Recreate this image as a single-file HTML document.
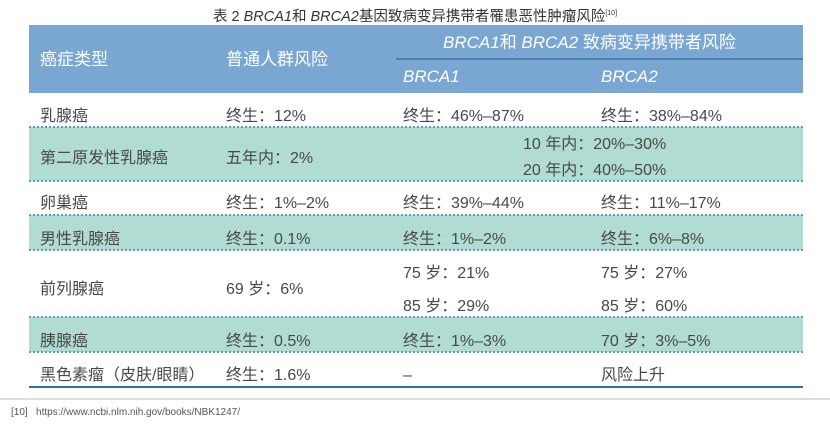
<!DOCTYPE html>
<html><head><meta charset="utf-8"><style>
*{margin:0;padding:0;box-sizing:border-box}
body{width:830px;height:424px;background:#fff;position:relative;overflow:hidden;font-family:"Liberation Sans","Noto Sans CJK SC",sans-serif;color:#484848}
.a{position:absolute;white-space:nowrap}
.t{font-size:16px;line-height:18px;transform:translateY(-9px)}
.h{color:#fff;font-size:17px;line-height:20px;transform:translateY(-10px)}
.band{position:absolute;left:29px;width:774px}
.dot{position:absolute;left:29px;width:774px;border-top:2px dotted #5a9ccc;height:0}
i{font-style:italic}
</style></head><body>
<div class="a" style="left:0;width:830px;text-align:center;top:4px;font-size:14.5px;line-height:20px;color:#333">表 2 <i>BRCA1</i>和 <i>BRCA2</i>基因致病变异携带者罹患恶性肿瘤风险<sup style="font-size:7px">[10]</sup></div>
<div class="band" style="top:25px;height:68px;background:#7aa6d2"></div>
<div class="a" style="left:396px;width:407px;top:58px;height:2px;background:#4d7fb5"></div>
<div class="a h" style="left:40px;top:60px">癌症类型</div>
<div class="a h" style="left:226px;top:60px">普通人群风险</div>
<div class="a h" style="left:443px;top:43px"><i>BRCA1</i>和 <i>BRCA2</i> 致病变异携带者风险</div>
<div class="a h" style="left:403px;top:77px"><i>BRCA1</i></div>
<div class="a h" style="left:601px;top:77px"><i>BRCA2</i></div>

<div class="band" style="top:127px;height:54px;background:#b1dcd4"></div>
<div class="band" style="top:215px;height:35px;background:#b1dcd4"></div>
<div class="band" style="top:317px;height:35px;background:#b1dcd4"></div>
<div class="dot" style="top:126px"></div>
<div class="dot" style="top:180px"></div>
<div class="dot" style="top:214px"></div>
<div class="dot" style="top:249px"></div>
<div class="dot" style="top:316px"></div>
<div class="dot" style="top:351px"></div>
<div class="a" style="left:29px;width:774px;top:386px;height:2px;background:#2f6cb0"></div>
<div class="a" style="left:0;width:830px;top:398px;height:2px;background:#ddd"></div>

<div class="a t" style="left:40px;top:117px">乳腺癌</div>
<div class="a t" style="left:226px;top:117px">终生：12%</div>
<div class="a t" style="left:403px;top:117px">终生：46%–87%</div>
<div class="a t" style="left:601px;top:117px">终生：38%–84%</div>

<div class="a t" style="left:40px;top:159px">第二原发性乳腺癌</div>
<div class="a t" style="left:226px;top:159px">五年内：2%</div>
<div class="a t" style="left:523px;top:145px">10 年内：20%–30%</div>
<div class="a t" style="left:523px;top:171px">20 年内：40%–50%</div>

<div class="a t" style="left:40px;top:204px">卵巢癌</div>
<div class="a t" style="left:226px;top:204px">终生：1%–2%</div>
<div class="a t" style="left:403px;top:204px">终生：39%–44%</div>
<div class="a t" style="left:601px;top:204px">终生：11%–17%</div>

<div class="a t" style="left:40px;top:240px">男性乳腺癌</div>
<div class="a t" style="left:226px;top:240px">终生：0.1%</div>
<div class="a t" style="left:403px;top:240px">终生：1%–2%</div>
<div class="a t" style="left:601px;top:240px">终生：6%–8%</div>

<div class="a t" style="left:40px;top:290px">前列腺癌</div>
<div class="a t" style="left:226px;top:290px">69 岁：6%</div>
<div class="a t" style="left:403px;top:274px">75 岁：21%</div>
<div class="a t" style="left:601px;top:274px">75 岁：27%</div>
<div class="a t" style="left:403px;top:307px">85 岁：29%</div>
<div class="a t" style="left:601px;top:307px">85 岁：60%</div>

<div class="a t" style="left:40px;top:342px">胰腺癌</div>
<div class="a t" style="left:226px;top:342px">终生：0.5%</div>
<div class="a t" style="left:403px;top:342px">终生：1%–3%</div>
<div class="a t" style="left:601px;top:342px">70 岁：3%–5%</div>

<div class="a t" style="left:40px;top:376px">黑色素瘤（皮肤/眼睛）</div>
<div class="a t" style="left:226px;top:376px">终生：1.6%</div>
<div class="a t" style="left:403px;top:376px">–</div>
<div class="a t" style="left:601px;top:376px">风险上升</div>

<div class="a" style="left:11px;top:406px;font-size:10px;line-height:14px;color:#555">[10]&nbsp;&nbsp;&nbsp;https://www.ncbi.nlm.nih.gov/books/NBK1247/</div>
</body></html>
